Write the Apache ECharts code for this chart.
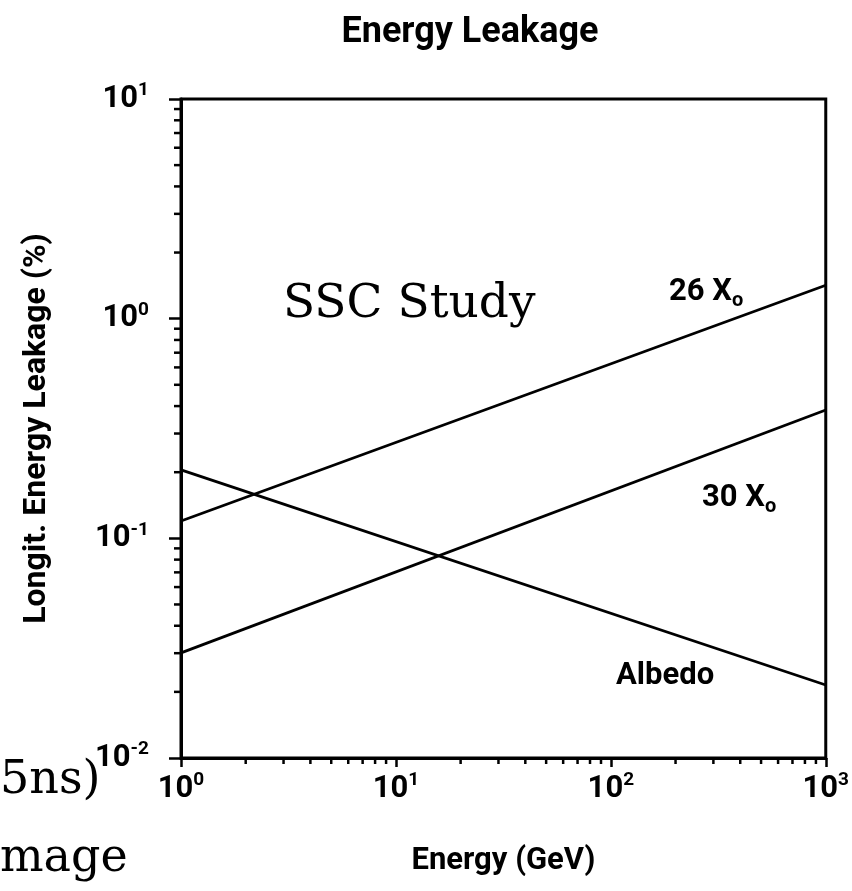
<!DOCTYPE html>
<html>
<head>
<meta charset="utf-8">
<script src="https://cdn.jsdelivr.net/npm/echarts@6/dist/echarts.min.js"></script>
<style>
html,body{margin:0;padding:0;background:#fff;}
#chart{width:852px;height:891px;}
</style>
</head>
<body>
<div id="chart"></div>
<script>
// ---- data ----
const energyGeV = [1, 1000];
const leak26X0 = [0.120, 1.42];
const leak30X0 = [0.0301, 0.384];
const leakAlbedo = [0.205, 0.0215];

const xTickExponents = ['0', '1', '2', '3'];
const yTickExponents = ['-2', '-1', '0', '1'];
const xMinorTicks = [2,3,4,5,6,7,8,9,20,30,40,50,60,70,80,90,200,300,400,500,600,700,800,900];
const yMinorTicks = [0.02,0.03,0.04,0.05,0.06,0.07,0.08,0.09,0.2,0.3,0.4,0.5,0.6,0.7,0.8,0.9,2,3,4,5,6,7,8,9];

const chartTitle = 'Energy Leakage';
const xName = 'Energy (GeV)';
const yName = 'Longit. Energy Leakage (%)';

const SANS = 'Roboto, "DejaVu Sans", sans-serif';
const SERIF = '"DejaVu Serif", serif';

function pairs(xs, ys) { return xs.map((x, i) => [x, ys[i]]); }

const tickRich = {
  b: { fontFamily: SANS, fontWeight: 'bold', fontSize: 31, color: '#000', lineHeight: 36 },
  s: { fontFamily: SANS, fontWeight: 'bold', fontSize: 19, color: '#000', lineHeight: 36, verticalAlign: 'top' }
};
const subRich = {
  m: { fontFamily: SANS, fontWeight: 'bold', fontSize: 31, fill: '#000', lineHeight: 36 },
  o: { fontFamily: SANS, fontWeight: 'bold', fontSize: 20, fill: '#000', lineHeight: 38, verticalAlign: 'bottom' }
};

const chart = echarts.init(document.getElementById('chart'), null, { renderer: 'canvas' });

const option = {
  backgroundColor: '#fff',
  animation: false,
  grid: {
    left: 181, right: 26, top: 99, bottom: 133,
    show: true, borderColor: '#000', borderWidth: 3, backgroundColor: 'transparent'
  },
  xAxis: {
    type: 'log', logBase: 10, min: 1, max: 1000,
    name: xName, nameLocation: 'middle', nameGap: 88,
    nameTextStyle: { fontFamily: SANS, fontWeight: 'bold', fontSize: 31, color: '#000' },
    axisLine: { show: true, lineStyle: { color: '#000', width: 3 } },
    axisTick: { show: true, inside: false, length: 9, lineStyle: { color: '#000', width: 2.5 } },
    splitLine: { show: false },
    axisLabel: {
      margin: 13,
      formatter: (v, i) => '{b|10}{s|' + xTickExponents[i] + '}',
      rich: tickRich
    }
  },
  yAxis: {
    type: 'log', logBase: 10, min: 0.01, max: 10,
    name: yName, nameLocation: 'middle', nameGap: 128,
    nameTextStyle: { fontFamily: SANS, fontWeight: 'bold', fontSize: 32, color: '#000' },
    axisLine: { show: true, lineStyle: { color: '#000', width: 3 } },
    axisTick: { show: true, inside: false, length: 12, lineStyle: { color: '#000', width: 2.5 } },
    splitLine: { show: false },
    axisLabel: {
      margin: 32,
      formatter: (v, i) => '{b|10}{s|' + yTickExponents[i] + '}',
      rich: tickRich
    }
  },
  series: [
    { name: '26 X0', type: 'line', data: pairs(energyGeV, leak26X0), symbol: 'none',
      lineStyle: { color: '#000', width: 2.8 }, silent: true },
    { name: '30 X0', type: 'line', data: pairs(energyGeV, leak30X0), symbol: 'none',
      lineStyle: { color: '#000', width: 2.8 }, silent: true },
    { name: 'Albedo', type: 'line', data: pairs(energyGeV, leakAlbedo), symbol: 'none',
      lineStyle: { color: '#000', width: 2.8 }, silent: true },
    { name: 'xMinor', type: 'custom', silent: true, clip: false, z: 5,
      data: xMinorTicks.map(v => [v, 0.01]),
      renderItem: (params, api) => {
        const p = api.coord([api.value(0), api.value(1)]);
        return { type: 'line', shape: { x1: p[0], y1: p[1], x2: p[0], y2: p[1] + 6 },
                 style: { stroke: '#000', lineWidth: 2.5 } };
      } },
    { name: 'yMinor', type: 'custom', silent: true, clip: false, z: 5,
      data: yMinorTicks.map(v => [1, v]),
      renderItem: (params, api) => {
        const p = api.coord([api.value(0), api.value(1)]);
        return { type: 'line', shape: { x1: p[0] - 7, y1: p[1], x2: p[0], y2: p[1] },
                 style: { stroke: '#000', lineWidth: 2.5 } };
      } }
  ],
  graphic: [
    { type: 'text', x: 470, y: 33, style: { text: chartTitle, fill: '#000',
        font: 'bold 36px ' + SANS, textAlign: 'center', textVerticalAlign: 'middle' } },
    { type: 'text', x: 283, y: 305, style: { text: 'SSC Study', fill: '#000',
        font: '47px ' + SERIF, textAlign: 'left', textVerticalAlign: 'middle' } },
    { type: 'text', x: 669, y: 292, style: { text: '{m|26 X}{o|o}', textAlign: 'left', textVerticalAlign: 'middle', rich: subRich } },
    { type: 'text', x: 702, y: 498, style: { text: '{m|30 X}{o|o}', textAlign: 'left', textVerticalAlign: 'middle', rich: subRich } },
    { type: 'text', x: 616, y: 676, style: { text: 'Albedo', fill: '#000',
        font: 'bold 31px ' + SANS, textAlign: 'left', textVerticalAlign: 'middle' } },
    { type: 'text', x: 0, y: 781, style: { text: '5ns)', fill: '#000',
        font: '46px ' + SERIF, textAlign: 'left', textVerticalAlign: 'middle' } },
    { type: 'text', x: 0, y: 859, style: { text: 'mage', fill: '#000',
        font: '46px ' + SERIF, textAlign: 'left', textVerticalAlign: 'middle' } }
  ]
};
chart.setOption(option);
</script>
</body>
</html>
